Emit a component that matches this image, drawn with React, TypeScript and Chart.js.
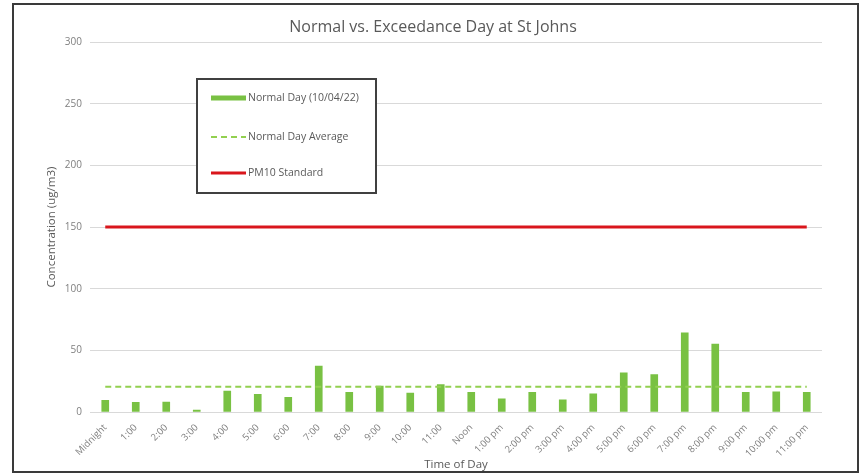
import React, { useEffect, useRef } from "react";
import { Chart, registerables } from "chart.js";

Chart.register(...registerables);

const hours = [
  "Midnight", "1:00", "2:00", "3:00", "4:00", "5:00", "6:00", "7:00", "8:00", "9:00", "10:00", "11:00",
  "Noon", "1:00 pm", "2:00 pm", "3:00 pm", "4:00 pm", "5:00 pm", "6:00 pm", "7:00 pm", "8:00 pm", "9:00 pm", "10:00 pm", "11:00 pm",
];
const normalDay = [9.5, 7.8, 8, 1.5, 17, 14.3, 11.8, 37.3, 15.9, 21, 15.3, 22.3, 15.9, 10.7, 15.9, 9.9, 14.8, 31.7, 30.4, 64.3, 55.1, 15.9, 16.4, 15.9];
const normalDayAverage = [20.5, 20.5, 20.5, 20.5, 20.5, 20.5, 20.5, 20.5, 20.5, 20.5, 20.5, 20.5, 20.5, 20.5, 20.5, 20.5, 20.5, 20.5, 20.5, 20.5, 20.5, 20.5, 20.5, 20.5];
const pm10Standard = [150, 150, 150, 150, 150, 150, 150, 150, 150, 150, 150, 150, 150, 150, 150, 150, 150, 150, 150, 150, 150, 150, 150, 150];
const yTicks = [0, 50, 100, 150, 200, 250, 300];

const FONT = "'Open Sans', 'Liberation Sans', sans-serif";
const TEXT = "#595959";

const frameAndLegend = {
  id: "frameAndLegend",
  beforeDraw(chart: any) {
    const ctx = chart.ctx;
    ctx.save();
    ctx.fillStyle = "#ffffff";
    ctx.fillRect(0, 0, chart.width, chart.height);
    ctx.restore();
  },
  afterDraw(chart: any) {
    const ctx = chart.ctx;
    ctx.save();
    // outer frame
    ctx.strokeStyle = "#3a3a3a";
    ctx.lineWidth = 2;
    ctx.strokeRect(13, 4, 845, 468);
    // legend box
    const bx = 197, by = 79, bw = 179, bh = 114;
    ctx.fillStyle = "#ffffff";
    ctx.fillRect(bx, by, bw, bh);
    ctx.strokeStyle = "#404040";
    ctx.lineWidth = 2;
    ctx.strokeRect(bx, by, bw, bh);
    const rows = [98, 137, 173];
    const ds = chart.data.datasets;
    ctx.font = "10.5px " + FONT;
    ctx.textBaseline = "middle";
    [0, 1, 2].forEach((i, r) => {
      const d = ds[i];
      const y = rows[r];
      ctx.beginPath();
      if (i === 0) {
        ctx.strokeStyle = d.backgroundColor;
        ctx.lineWidth = 5;
        ctx.setLineDash([]);
      } else {
        ctx.strokeStyle = d.borderColor;
        ctx.lineWidth = d.borderWidth;
        ctx.setLineDash(d.borderDash || []);
      }
      ctx.moveTo(211, y);
      ctx.lineTo(246, y);
      ctx.stroke();
      ctx.setLineDash([]);
      ctx.fillStyle = TEXT;
      ctx.fillText(d.label, 248, y);
    });
    ctx.restore();
  },
};

export default function App() {
  const ref = useRef<HTMLCanvasElement | null>(null);
  useEffect(() => {
    if (!ref.current) return;
    const chart = new Chart(ref.current, {
      type: "bar",
      data: {
        labels: hours,
        datasets: [
          {
            type: "bar",
            label: "Normal Day (10/04/22)",
            data: normalDay,
            backgroundColor: "#79c143",
            borderWidth: 0,
            barThickness: 7,
            order: 3,
          } as any,
          {
            type: "line",
            label: "Normal Day Average",
            data: normalDayAverage,
            borderColor: "#92d050",
            borderWidth: 2,
            borderDash: [6, 4],
            pointRadius: 0,
            fill: false,
            order: 2,
          } as any,
          {
            type: "line",
            label: "PM10 Standard",
            data: pm10Standard,
            borderColor: "#d9161c",
            borderWidth: 3,
            pointRadius: 0,
            fill: false,
            order: 1,
          } as any,
        ],
      },
      options: {
        responsive: false,
        animation: false,
        devicePixelRatio: 1,
        layout: { padding: { left: 44, right: 38, top: 10, bottom: 0 } },
        plugins: {
          legend: { display: false },
          tooltip: { enabled: false },
          title: {
            display: true,
            text: "Normal vs. Exceedance Day at St Johns",
            color: TEXT,
            font: { family: FONT, size: 16, weight: "normal" },
            padding: { top: 8, bottom: 5 },
          },
        },
        scales: {
          x: {
            grid: { display: false },
            border: { display: false },
            ticks: {
              color: "#7f7f7f",
              font: { family: FONT, size: 9.5 },
              maxRotation: 45,
              minRotation: 45,
              autoSkip: false,
              padding: 2,
            },
            title: {
              display: true,
              text: "Time of Day",
              color: TEXT,
              font: { family: FONT, size: 11.5 },
              padding: { top: 0, bottom: 2 },
            },
            afterFit: (s: any) => {
              s.height = 62;
            },
          },
          y: {
            min: 0,
            max: 300,
            afterBuildTicks: (s: any) => {
              s.ticks = yTicks.map((v) => ({ value: v }));
            },
            grid: { color: "#d9d9d9", drawTicks: false, lineWidth: 1 },
            border: { display: false },
            ticks: {
              color: "#7f7f7f",
              font: { family: FONT, size: 10 },
              padding: 8,
            },
            title: {
              display: true,
              text: "Concentration (ug/m3)",
              color: TEXT,
              font: { family: FONT, size: 11.5 },
              padding: { top: 1, bottom: 0 },
            },
            afterFit: (s: any) => {
              s.width = 46;
            },
          },
        },
      },
      plugins: [frameAndLegend],
    });
    return () => chart.destroy();
  }, []);
  return (
    <div style={{ position: "absolute", left: 0, top: 0, width: 860, height: 474 }}>
      <canvas ref={ref} width={860} height={474} style={{ display: "block" }} />
    </div>
  );
}
